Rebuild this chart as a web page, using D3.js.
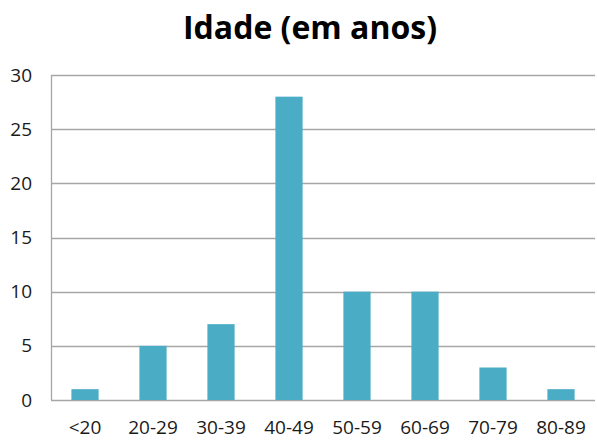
<!DOCTYPE html>
<meta charset="utf-8">
<html>
<head>
<script src="https://d3js.org/d3.v7.min.js"></script>
<style>
  body { margin: 0; background: #fff; }
  text { font-family: "Open Sans", sans-serif; }
</style>
</head>
<body>
<svg width="597" height="442"></svg>
<script>

var categories = ["<20", "20-29", "30-39", "40-49", "50-59", "60-69", "70-79", "80-89"];
var values = [1, 5, 7, 28, 10, 10, 3, 1];
var yTicks = [0, 5, 10, 15, 20, 25, 30];
var title = "Idade (em anos)";

var svg = d3.select("svg"),
    margin = {top: 75, right: 2, bottom: 42, left: 51},
    width = +svg.attr("width"),
    height = +svg.attr("height");

var x = d3.scaleBand()
    .domain(categories)
    .range([margin.left, width - margin.right])
    .paddingInner(0.6)
    .paddingOuter(0.3);

var y = d3.scaleLinear()
    .domain([0, 30])
    .range([height - margin.bottom, margin.top]);

// gridlines
svg.append("g")
  .selectAll("line")
  .data(yTicks)
  .enter().append("line")
    .attr("x1", margin.left)
    .attr("x2", width - margin.right)
    .attr("y1", function(d) { return Math.round(y(d)) + 0.5; })
    .attr("y2", function(d) { return Math.round(y(d)) + 0.5; })
    .attr("stroke", "#a6a6a6")
    .attr("stroke-width", 1.3);

// y axis line
svg.append("line")
    .attr("x1", margin.left + 0.5).attr("x2", margin.left + 0.5)
    .attr("y1", y(30)).attr("y2", y(0))
    .attr("stroke", "#a6a6a6")
    .attr("stroke-width", 1.3);

svg.append("g")
  .selectAll("rect")
  .data(values)
  .enter().append("rect")
    .attr("x", function(d, i) { return x(categories[i]); })
    .attr("width", x.bandwidth())
    .attr("y", function(d) { return y(d); })
    .attr("height", function(d) { return y(0) - y(d); })
    .attr("fill", "#4bacc6");

// y labels
svg.append("g")
  .selectAll("text")
  .data(yTicks)
  .enter().append("text")
    .attr("x", 32)
    .attr("y", function(d) { return y(d); })
    .attr("dy", "0.35em")
    .attr("text-anchor", "end")
    .attr("font-size", 19)
    .attr("fill", "#1a1a1a")
    .text(function(d) { return d; });

// x labels
svg.append("g")
  .selectAll("text")
  .data(categories)
  .enter().append("text")
    .attr("x", function(d) { return x(d) + x.bandwidth() / 2; })
    .attr("y", height - margin.bottom + 27)
    .attr("dy", "0.35em")
    .attr("text-anchor", "middle")
    .attr("font-size", 19)
    .attr("fill", "#1a1a1a")
    .text(function(d) { return d; });

svg.append("text")
    .attr("x", 310)
    .attr("y", 39)
    .attr("text-anchor", "middle")
    .attr("font-size", 32)
    .attr("font-weight", "bold")
    .attr("fill", "#000")
    .text(title);

</script>
</body>
</html>
